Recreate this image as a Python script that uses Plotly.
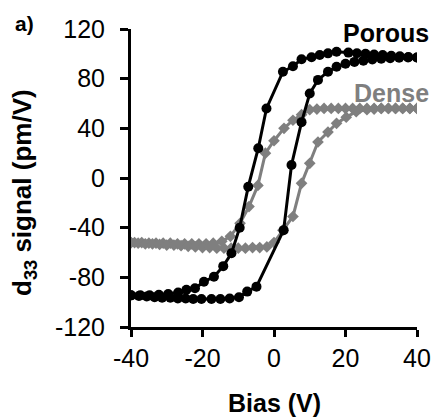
import plotly.graph_objects as go

# Porous film: descending sweep (+40 -> -40) then ascending sweep (-40 -> +40)
porous_down_x = [40, 37.6, 35.2, 32.8, 30.4, 28.0, 25.6, 23.2, 20.8, 17.5, 15.1, 12.8, 10.5, 7.7, 5.3, 2.5,
                 -2.1, -4.4, -7.2, -9.6, -11.9, -14.2, -16.8, -19.6, -22.1, -24.5, -26.8, -29.6,
                 -32.2, -34.8, -37.4, -40]
porous_down_y = [97, 97.5, 98, 98.5, 99, 99.5, 100, 100.5, 101, 101.7, 100.4, 99, 97.2, 95.6, 90, 85.6,
                 56, 24, -7, -40, -60.6, -71, -79.5, -83.5, -88.8, -90, -92.3, -93.4,
                 -94, -94.5, -94.5, -94.5]
porous_up_x = [-40, -37.8, -35.6, -33.4, -31.3, -29.0, -26.9, -24.7, -22.6, -20.3, -17.5, -15.0, -12.4,
               -9.8, -7.5, -4.9, 2.7, 4.9, 7.7, 10.0, 12.3, 15.1, 17.5, 20.0, 22.5, 25.0, 27.5, 30.0,
               32.5, 35.0, 37.5, 40]
porous_up_y = [-94.5, -95, -95.5, -96, -96.5, -96.5, -97, -97, -97.5, -97.5, -97.5, -97.5, -97,
               -96, -91.5, -87.5, -42, 10.5, 45, 68, 79, 85.6, 89.6, 92, 93.5, 94.5, 95.5, 96,
               96.5, 96.8, 97, 97]

# Dense film
dense_down_x = [40, 38, 36, 34, 32, 30, 28, 26, 24, 22, 20, 18, 16, 14, 12, 10, 7.7, 5.3, 2.8, 0,
                -2.4, -4.5, -7.0, -9.5, -12.2, -14.6, -17, -19, -21, -23, -25, -27, -29, -31,
                -33, -35, -37, -39, -40]
dense_down_y = [56, 56, 56, 56, 56, 56, 56, 56, 56, 56, 56, 56, 56, 56, 55.5, 55, 51, 46.5, 40, 30,
                20, -6, -23, -36.5, -47, -51, -52.5, -53, -53, -53, -53, -53, -52.5, -52.5,
                -52.5, -52.5, -52, -52, -52]
dense_up_x = [-40, -38, -36, -34, -32, -30, -28, -26, -24, -22, -20, -18, -16, -14, -12, -10, -8, -6,
              -4, -2, 0, 2.5, 5.3, 7.7, 10.0, 12.3, 15.1, 17.5, 20.2, 23.0, 26, 28, 30, 32, 34, 36,
              38, 40]
dense_up_y = [-52, -52.5, -53, -53, -53.5, -54, -54, -54.5, -55, -55.5, -56, -56, -56.5, -56.5,
              -56.5, -56.5, -56.5, -56, -56, -55.5, -52, -42, -31, -4.3, 11.8, 29, 37, 44, 49, 53.4,
              55, 55.5, 56, 56, 56, 56, 56, 56]

x_ticks = [-40, -20, 0, 20, 40]
x_tick_text = ["-40", "-20", "0", "20", "40"]
y_ticks = [-120, -80, -40, 0, 40, 80, 120]
y_tick_text = ["-120", "-80", "-40", "0", "40", "80", "120"]

GRAY = "#7f7f7f"
FONT = "Liberation Sans, Arial, sans-serif"

fig = go.Figure()
fig.add_trace(go.Scatter(
    x=dense_down_x + dense_up_x, y=dense_down_y + dense_up_y, mode="lines+markers",
    line=dict(color=GRAY, width=3), marker=dict(symbol="diamond", size=9, color=GRAY),
    name="Dense", showlegend=False))
fig.add_trace(go.Scatter(
    x=porous_down_x + porous_up_x, y=porous_down_y + porous_up_y, mode="lines+markers",
    line=dict(color="black", width=3), marker=dict(symbol="circle", size=10, color="black"),
    name="Porous", showlegend=False))

fig.update_layout(
    width=438, height=418,
    margin=dict(l=131, r=21, t=29, b=91, autoexpand=False),
    paper_bgcolor="white", plot_bgcolor="white",
    font=dict(family=FONT, size=25, color="black"),
    xaxis=dict(range=[-40, 40], tickvals=x_ticks, ticktext=x_tick_text, showgrid=False,
               zeroline=False, automargin=False,
               showline=True, linewidth=3, linecolor="black", ticks="outside",
               ticklen=7, tickwidth=3, tickcolor="black"),
    yaxis=dict(range=[-120, 120], tickvals=y_ticks, ticktext=y_tick_text, showgrid=False,
               zeroline=False, automargin=False,
               showline=True, linewidth=3, linecolor="black", ticks="outside",
               ticklen=8, tickwidth=3, tickcolor="black", ticklabelstandoff=10),
    annotations=[
        dict(text="<b>Bias (V)</b>", xref="paper", yref="paper", x=0.5, y=-0.256,
             xanchor="center", yanchor="middle", showarrow=False,
             font=dict(size=25, color="black")),
        dict(text="<b>d<sub>33</sub> signal (pm/V)</b>", xref="paper", yref="paper",
             x=-0.374, y=0.45, textangle=-90,
             xanchor="center", yanchor="middle", showarrow=False,
             font=dict(size=26, color="black")),
        dict(text="<b>Porous</b>", xref="paper", yref="paper", x=1.05, y=0.987,
             xanchor="right", yanchor="middle", showarrow=False,
             font=dict(size=25, color="black")),
        dict(text="<b>Dense</b>", xref="paper", yref="paper", x=1.05, y=0.785,
             xanchor="right", yanchor="middle", showarrow=False,
             font=dict(size=25, color=GRAY)),
        dict(text="<b>a)</b>", xref="paper", yref="paper", x=-0.413, y=1.017,
             xanchor="left", yanchor="middle", showarrow=False,
             font=dict(size=21, color="black")),
    ],
)

fig.write_html("out.html")
